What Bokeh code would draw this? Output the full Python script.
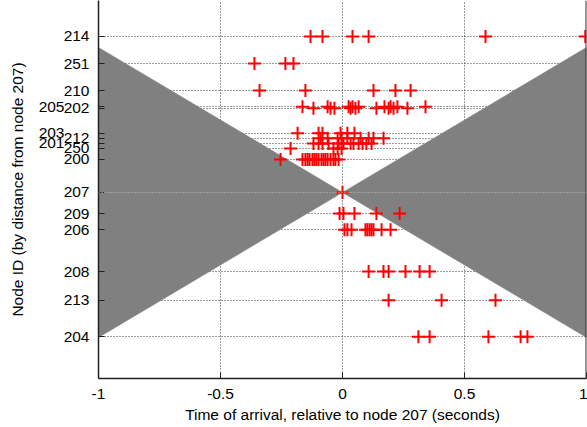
from bokeh.plotting import figure
from bokeh.models import FixedTicker, Span, Range1d, LinearAxis
from bokeh.embed import file_html
from bokeh.resources import INLINE

FONT = "Liberation Sans"
FONT_SIZE = "15.5px"

# Nodes, ordered by signed distance from node 207 (metres, positive upwards)
node_ids = ["214", "251", "210", "205", "202", "203", "212", "201", "250", "200",
            "207", "209", "206", "208", "213", "204"]
node_dist = [369, 305, 241, 203, 199, 140, 128, 116, 104, 78,
             0, -50, -88, -187, -255, -341]
# tick labels that are pushed to the left so they do not collide with a neighbour
shifted_ids = ["205", "203", "201"]

# Speed of sound (m/s): arrivals inside the shaded wedges are physically impossible
sound_speed = 343.0

# Arrival times relative to node 207 (seconds), one list per node
t_214 = [-0.131, -0.082, 0.041, 0.107, 0.586, 0.995]
t_251 = [-0.361, -0.234, -0.201]
t_210 = [-0.340, -0.152, 0.127, 0.217, 0.279]
t_205 = [-0.164, -0.061, 0.025, 0.041, 0.066, 0.172, 0.197, 0.225, 0.340]
t_202 = [-0.119, -0.049, -0.033, 0.033, 0.053, 0.139, 0.189, 0.209, 0.266]
t_203 = [-0.184, -0.098, -0.082, -0.008, 0.020, 0.049]
t_212 = [-0.090, -0.061, -0.020, -0.004, 0.020, 0.074, 0.107, 0.127, 0.168]
t_201 = [-0.119, -0.098, -0.082, -0.057, -0.016, 0.004, 0.033, 0.045, 0.066,
         0.082, 0.098, 0.119]
t_250 = [-0.213, -0.037, -0.020, -0.004]
t_200 = [-0.254, -0.164, -0.152, -0.143, -0.135, -0.123, -0.115, -0.107, -0.098,
         -0.086, -0.078, -0.070, -0.061, -0.049, -0.037, -0.029, -0.016]
t_207 = [0.0]
t_209 = [-0.012, 0.004, 0.049, 0.139, 0.234]
t_206 = [0.008, 0.020, 0.037, 0.094, 0.102, 0.111, 0.119, 0.127, 0.160, 0.197]
t_208 = [0.107, 0.168, 0.189, 0.258, 0.316, 0.357]
t_213 = [0.189, 0.406, 0.627]
t_204 = [0.311, 0.357, 0.598, 0.730, 0.758]

arrivals = [t_214, t_251, t_210, t_205, t_202, t_203, t_212, t_201, t_250, t_200,
            t_207, t_209, t_206, t_208, t_213, t_204]

x_ticks = [-1, -0.5, 0, 0.5, 1]
x_tick_labels = ["-1", "-0.5", "0", "0.5", "1"]

xs, ys = [], []
for dist, times in zip(node_dist, arrivals):
    xs.extend(times)
    ys.extend([dist] * len(times))

p = figure(width=587, height=427,
           x_range=Range1d(-1, 1), y_range=Range1d(-440, 454),
           output_backend="svg", toolbar_location=None,
           min_border_left=98, min_border_right=1,
           min_border_top=0, min_border_bottom=49,
           outline_line_color=None,
           background_fill_color="white", border_fill_color="white")

# grid
grid_kw = dict(grid_line_color="#383838", grid_line_dash="1 2", grid_line_width=1)
p.xgrid.ticker = FixedTicker(ticks=x_ticks)
p.ygrid.ticker = FixedTicker(ticks=node_dist)
for g in (p.xgrid, p.ygrid):
    for k, v in grid_kw.items():
        setattr(g, k, v)

# shaded wedges: |distance| < speed * |time|
reach = sound_speed * 1.0
p.patches(xs=[[-1, 0, -1], [1, 0, 1]],
          ys=[[reach, 0, -reach], [reach, 0, -reach]],
          fill_color="#808080", line_color="#808080", line_width=0.5)

# zero line stays visible across the wedges
p.add_layout(Span(location=0, dimension="width", line_color="#c4c4c4",
                  line_dash="1 2", line_width=1))

p.scatter(xs, ys, marker="cross", size=13, line_color="#ff0000",
          line_width=2)

# right border
p.add_layout(Span(location=1, dimension="height", line_color="#303030",
                  line_width=2))


def style_axis(ax):
    ax.axis_line_color = "#202020"
    ax.axis_line_width = 1.5
    ax.major_tick_in = 6
    ax.major_tick_out = 0
    ax.major_tick_line_color = "#202020"
    ax.minor_tick_line_color = None
    ax.major_label_text_font = FONT
    ax.major_label_text_font_size = FONT_SIZE
    ax.major_label_text_color = "black"
    ax.axis_label_text_font = FONT
    ax.axis_label_text_font_size = FONT_SIZE
    ax.axis_label_text_font_style = "normal"
    ax.axis_label_text_color = "black"


# x axis
xa = p.xaxis[0]
xa.ticker = FixedTicker(ticks=x_ticks)
xa.major_label_overrides = {t: s for t, s in zip(x_ticks, x_tick_labels)}
xa.axis_label = "Time of arrival, relative to node 207 (seconds)"
style_axis(xa)
xa.major_label_standoff = 10
xa.axis_label_standoff = 4

# inner y axis: node labels next to their grid lines
ya = p.yaxis[0]
style_axis(ya)
ya.ticker = FixedTicker(ticks=node_dist)
ya.major_label_overrides = {d: ("" if n in shifted_ids else n)
                            for d, n in zip(node_dist, node_ids)}
ya.major_label_standoff = 9

# outer y axis: the crowded labels, set further left, plus the axis title
shifted_dist = [d for n, d in zip(node_ids, node_dist) if n in shifted_ids]
ya2 = LinearAxis(ticker=FixedTicker(ticks=shifted_dist))
style_axis(ya2)
ya2.axis_line_color = None
ya2.major_tick_line_color = None
ya2.major_tick_in = 0
ya2.major_label_standoff = -4
ya2.major_label_overrides = {d: n for n, d in zip(node_ids, node_dist)
                             if n in shifted_ids}
ya2.axis_label = "Node ID (by distance from node 207)"
ya2.axis_label_standoff = 10
p.add_layout(ya2, "left")

open("out.html", "w").write(file_html(p, INLINE))
